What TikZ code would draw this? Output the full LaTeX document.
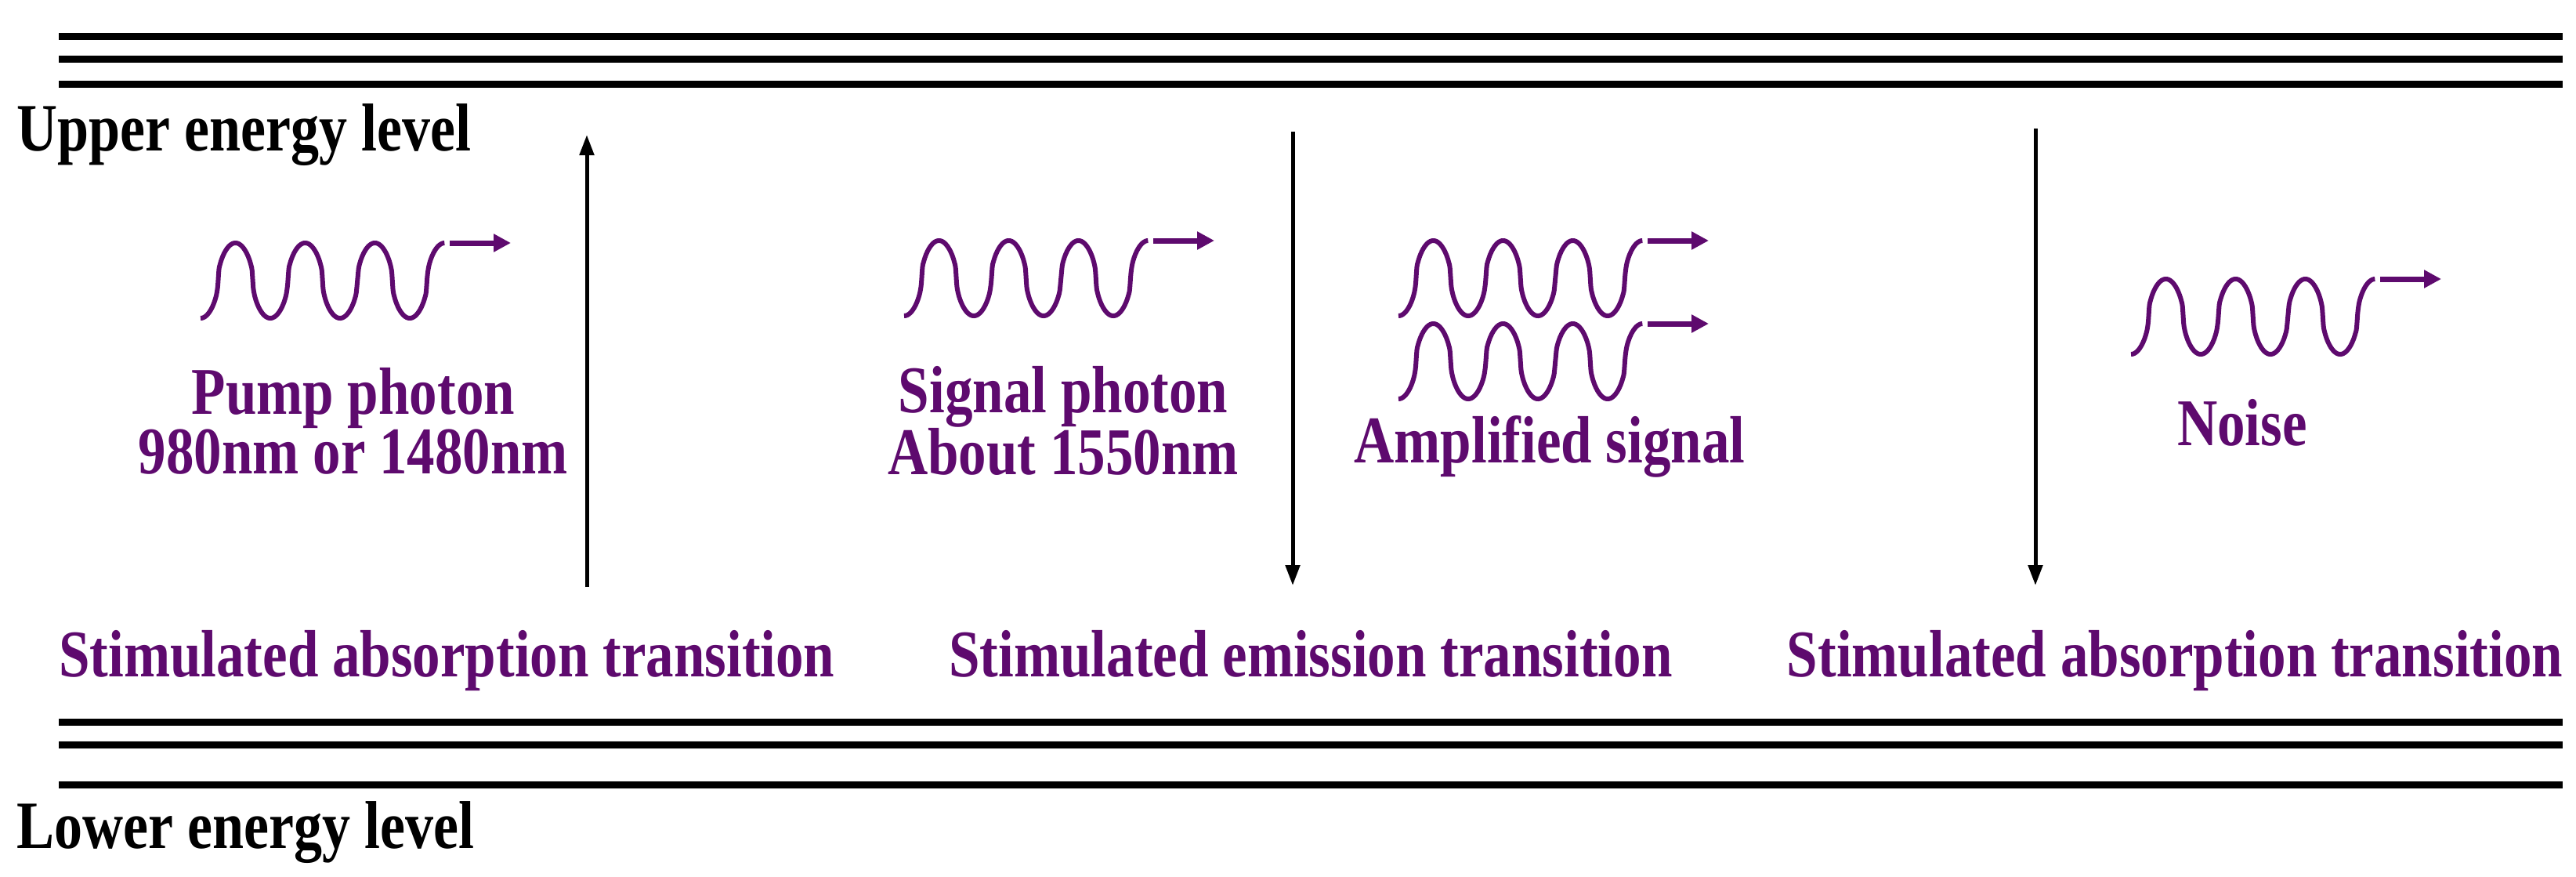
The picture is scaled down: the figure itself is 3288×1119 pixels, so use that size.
\documentclass[tikz,border=0pt]{standalone}
\usepackage{fontspec}
\setmainfont{Liberation Serif}
\usetikzlibrary{arrows.meta}
\definecolor{pur}{HTML}{5E0A6E}
\tikzset{
  lvl/.style={line width=9pt},
  trans/.style={line width=5pt,-{Triangle[length=26pt,width=18pt]}},
  wv/.style={pur,line width=6pt},
  wvarrow/.style={pur,line width=7pt,-{Triangle[length=22pt,width=22pt]}},
  lbl/.style={pur,font=\fontsize{71}{56}\selectfont\bfseries,align=center,inner sep=0pt,yscale=1.2,transform shape},
  blk/.style={black,font=\fontsize{72}{72}\selectfont\bfseries,inner sep=0pt,anchor=base west,yscale=1.2,transform shape}
}
\newcommand\mywave[3]{%
  \draw[wv] plot[domain=0:3.5,samples=200,smooth] ({#1+\x*89},{-#2-48*sign(cos(360*\x))*pow(abs(cos(360*\x))+0.0001,0.5)});
  \coordinate (#3s) at ({#1+318},{-#2+48});
  \coordinate (#3e) at ({#1+396},{-#2+48});
  \draw[wvarrow] (#3s) -- (#3e);
}
\begin{document}
\begin{tikzpicture}[x=1pt,y=1pt]
\useasboundingbox (0,0) rectangle (3288,-1119);
% levels
\foreach \y/\n in {46/t1,75/t2,107/t3,921/b1,950/b2,1001/b3}{
  \coordinate (\n l) at (75,-\y); \coordinate (\n r) at (3271,-\y);
  \draw[lvl] (\n l) -- (\n r);}
\node[blk] (up) at (21,-192) {Upper energy level};
\node[blk] (low) at (21,-1082) {Lower energy level};
% transitions
\coordinate (a1) at (749,-749); \coordinate (a2) at (749,-172);
\draw[trans] (a1) -- (a2);
\coordinate (b1) at (1650,-168); \coordinate (b2) at (1650,-747);
\draw[trans] (b1) -- (b2);
\coordinate (c1) at (2598,-164); \coordinate (c2) at (2598,-747);
\draw[trans] (c1) -- (c2);
% waves
\mywave{256}{358}{p}
\mywave{1154}{355}{s}
\mywave{1785}{355}{m}
\mywave{1785}{461}{n}
\mywave{2720}{404}{z}
% labels
\node[lbl] (pl) at (451,-537) {Pump photon\\980nm or 1480nm};
\node[lbl] (sl) at (1357,-537) {Signal photon\\About 1550nm};
\node[lbl] (al) at (1978,-570) {Amplified signal};
\node[lbl] (nl) at (2862,-539) {Noise};
\node[lbl,anchor=base west] (t1) at (75,-863) {Stimulated absorption transition};
\node[lbl,anchor=base] (t2) at (1673,-863) {Stimulated emission transition};
\node[lbl,anchor=base] (t3) at (2776,-863) {Stimulated absorption transition};
\end{tikzpicture}
\end{document}
